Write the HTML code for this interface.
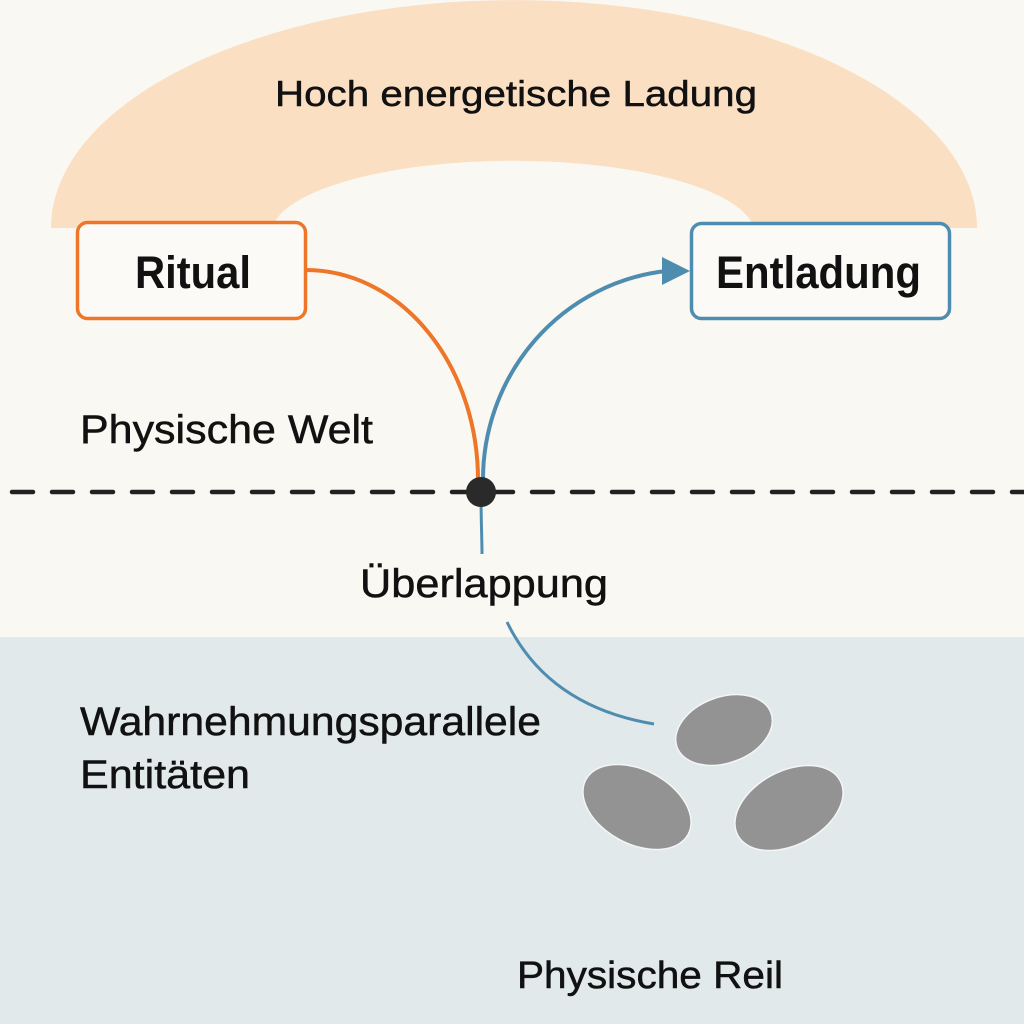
<!DOCTYPE html>
<html>
<head>
<meta charset="utf-8">
<style>
html,body{margin:0;padding:0;background:#FAF8F3;}
svg{display:block;}
text{font-family:"Liberation Sans","DejaVu Sans",sans-serif;fill:#111;}
.m{stroke:#111;stroke-width:0.5;}
</style>
</head>
<body>
<svg width="1024" height="1024" viewBox="0 0 1024 1024" xmlns="http://www.w3.org/2000/svg">
  <rect x="0" y="0" width="1024" height="1024" fill="#FAF8F3"/>
  <rect x="0" y="637" width="1024" height="387" fill="#E1E9EB"/>

  <!-- arch band -->
  <path d="M51 228 A463 228 0 0 1 977 228 L754 228 A242 74 0 0 0 272 228 Z" fill="#FBDFC3"/>
  <rect x="0" y="228" width="1024" height="2" fill="#FAF8F3"/>

  <text class="m" x="275" y="106" font-size="36" textLength="482" lengthAdjust="spacingAndGlyphs">Hoch energetische Ladung</text>

  <!-- boxes -->
  <rect x="77.5" y="222.5" width="228" height="96" rx="10" ry="10" fill="#FBFAF7" stroke="#EE7628" stroke-width="3.5"/>
  <text x="135" y="288" font-size="45" font-weight="bold" textLength="116" lengthAdjust="spacingAndGlyphs">Ritual</text>

  <rect x="691.5" y="223.5" width="258" height="95" rx="10" ry="10" fill="#FBFAF7" stroke="#4F8DB0" stroke-width="3.5"/>
  <text x="716" y="288" font-size="45" font-weight="bold" textLength="205" lengthAdjust="spacingAndGlyphs">Entladung</text>

  <!-- dashed line -->
  <line x1="12" y1="492" x2="1024" y2="492" stroke="#222" stroke-width="4.5" stroke-linecap="round" stroke-dasharray="21 19"/>

  <!-- orange connector -->
  <path d="M306 270 A172 210 0 0 1 478 482" fill="none" stroke="#EE7628" stroke-width="4"/>
  <!-- blue connector -->
  <path d="M483 482 A206 210 0 0 1 666 271" fill="none" stroke="#4F8DB0" stroke-width="4"/>
  <polygon points="662,257 690,271 662,285" fill="#4F8DB0"/>
  <path d="M481 492 C481 520 482 540 482 554" fill="none" stroke="#4F8DB0" stroke-width="3"/>

  <circle cx="481" cy="492" r="15" fill="#2A2A2A"/>

  <!-- lower curve -->
  <path d="M507 622 C540 690 600 715 654 724" fill="none" stroke="#4F8DB0" stroke-width="3"/>

  <!-- texts -->
  <text class="m" x="80" y="443" font-size="40" textLength="293" lengthAdjust="spacingAndGlyphs">Physische Welt</text>
  <text class="m" x="360" y="597" font-size="40" textLength="248" lengthAdjust="spacingAndGlyphs">Überlappung</text>
  <text class="m" x="80" y="735" font-size="40" textLength="461" lengthAdjust="spacingAndGlyphs">Wahrnehmungsparallele</text>
  <text class="m" x="80" y="788" font-size="40" textLength="170" lengthAdjust="spacingAndGlyphs">Entitäten</text>
  <text class="m" x="517" y="988" font-size="38" textLength="266" lengthAdjust="spacingAndGlyphs">Physische Reil</text>

  <!-- entities -->
  <g fill="#939393" stroke="#F4F6F6" stroke-width="1.5">
    <ellipse cx="724" cy="730" rx="50" ry="33" transform="rotate(-20 724 730)"/>
    <ellipse cx="637" cy="807" rx="58" ry="37" transform="rotate(28 637 807)"/>
    <ellipse cx="789" cy="808" rx="58" ry="37" transform="rotate(-28 789 808)"/>
  </g>
</svg>
</body>
</html>
